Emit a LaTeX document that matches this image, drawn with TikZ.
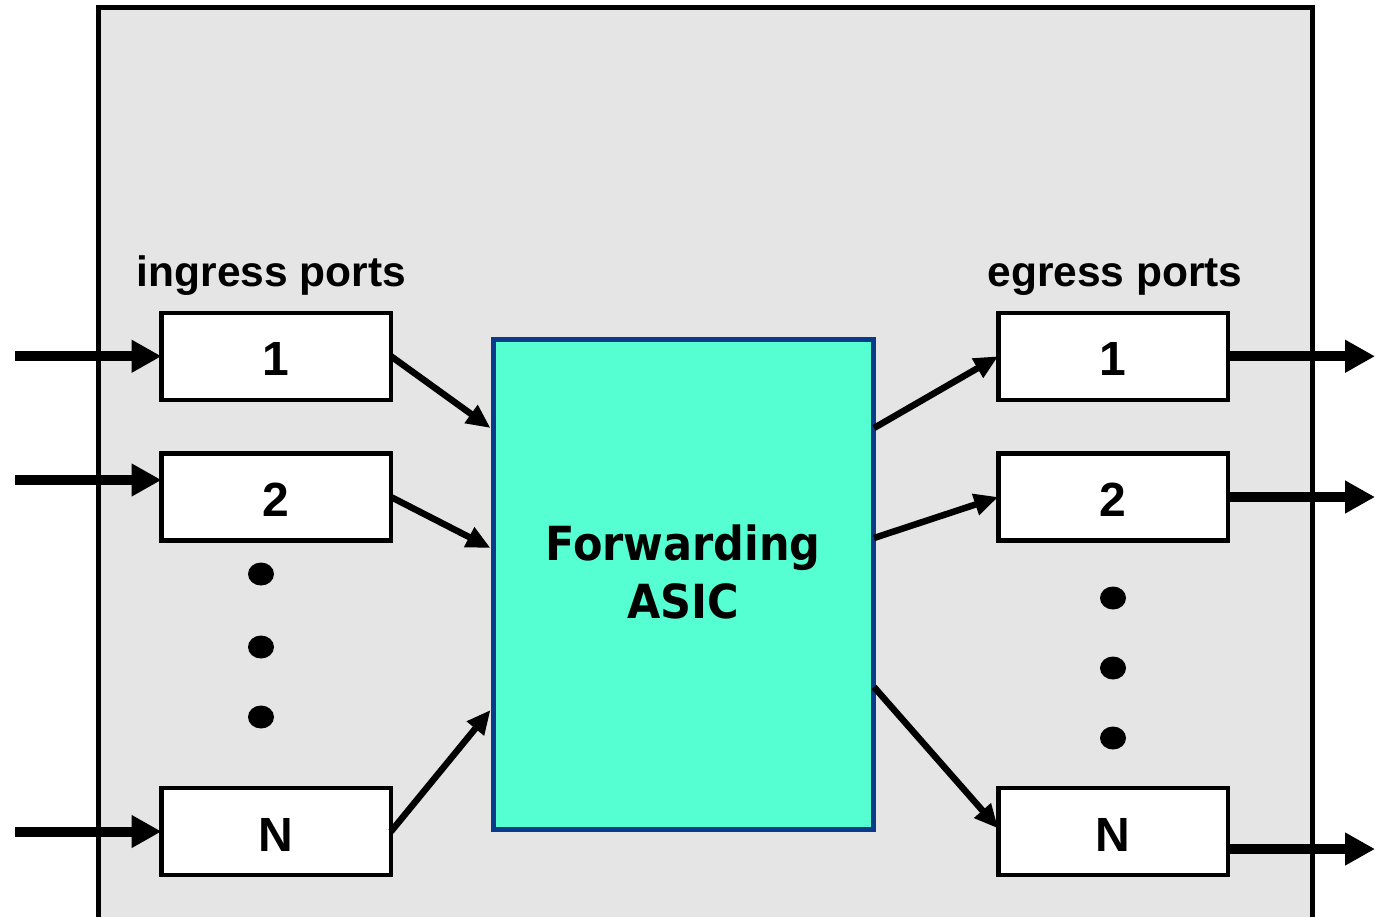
\documentclass[tikz,border=0pt]{standalone}
\usepackage{fontspec}
\setmainfont{Liberation Sans}
\newfontfamily\asicfont[FakeStretch=0.915]{DejaVu Sans}
\usetikzlibrary{arrows.meta,calc}
\definecolor{chassis}{HTML}{E5E5E5}
\definecolor{asicfill}{HTML}{55FFD2}
\definecolor{asicedge}{HTML}{0A3A8A}
\begin{document}
\begin{tikzpicture}[x=1pt,y=-1pt,
  port/.style={draw=black, line width=4.5pt, fill=white,
    minimum width=229.5pt, minimum height=87pt, inner sep=0pt, outer sep=0pt,
    text height=39pt, text depth=0pt,
    font=\bfseries\fontsize{48}{48}\selectfont},
  feed/.style={line width=10pt, -{Triangle[length=30pt,width=31pt]}},
  link/.style={line width=6.5pt, -{Triangle[length=24pt,width=21pt]}},
  heading/.style={font=\bfseries\fontsize{42.5}{42.5}\selectfont, anchor=base, inner sep=0pt}]

\useasboundingbox (0,0) rectangle (1375,916);

% switch chassis
\draw[fill=chassis, line width=5pt] (98.5,7.5) rectangle (1312.5,960);

% headings
\node[heading] (inlbl) at (271.5,286.5) {ingress ports};
\node[heading] (outlbl) at (1115,286.5) {egress ports};

% ports
\node[port] (in1) at (276.25,356.25) {1};
\node[port] (in2) at (276.25,497) {2};
\node[port] (inN) at (276.25,831.5) {N};
\node[port] (out1) at (1113,356.25) {1};
\node[port] (out2) at (1113,497) {2};
\node[port] (outN) at (1113,831.5) {N};

% forwarding engine
\node[draw=asicedge, fill=asicfill, line width=5pt, minimum width=380pt,
  minimum height=490pt, inner sep=0pt, outer sep=0pt] (asic) at (683,584) {};
\node[align=center, inner sep=0pt,
  font=\asicfont\bfseries\fontsize{47}{58}\selectfont] (asiclbl)
  at ($(asic.center)+(0,-12)$) {Forwarding\\ASIC};

% ellipsis dots
\foreach \y in {574,647,717} \fill (261,\y) ellipse [x radius=13, y radius=11.5];
\foreach \y in {598,668,738} \fill (1113,\y) ellipse [x radius=13, y radius=11.5];

% external feeds
\coordinate (src1) at (15,356.25);
\coordinate (src2) at (15,480);
\coordinate (srcN) at (15,831.5);
\coordinate (in2in) at ($(in2.west)+(0,-17)$);
\draw[feed] (src1) -- (in1.west);
\draw[feed] (src2) -- (in2in);
\draw[feed] (srcN) -- (inN.west);

\coordinate (dst1) at (1375,356.25);
\coordinate (dst2) at (1375,497);
\coordinate (dstN) at (1375,849);
\coordinate (outNout) at ($(outN.east)+(0,17.5)$);
\draw[feed] (out1.east) -- (dst1);
\draw[feed] (out2.east) -- (dst2);
\draw[feed] (outNout) -- (dstN);

% links into and out of the ASIC
\coordinate (a1) at ($(asic.north west)+(-2.5,89)$);
\coordinate (a2) at ($(asic.north west)+(-2.5,209)$);
\coordinate (aN) at ($(asic.north west)+(-2.5,371)$);
\coordinate (b1) at ($(asic.north east)+(1,89)$);
\coordinate (b2) at ($(asic.north east)+(1,199)$);
\coordinate (bN) at ($(asic.north east)+(1,348)$);
\draw[link] (in1.east) -- (a1);
\draw[link] (in2.east) -- (a2);
\draw[link] (inN.east) -- (aN);
\draw[link] (b1) -- (out1.west);
\draw[link] (b2) -- (out2.west);
\draw[link] (bN) -- ($(outN.west)+(0,-3)$);
\end{tikzpicture}
\end{document}
